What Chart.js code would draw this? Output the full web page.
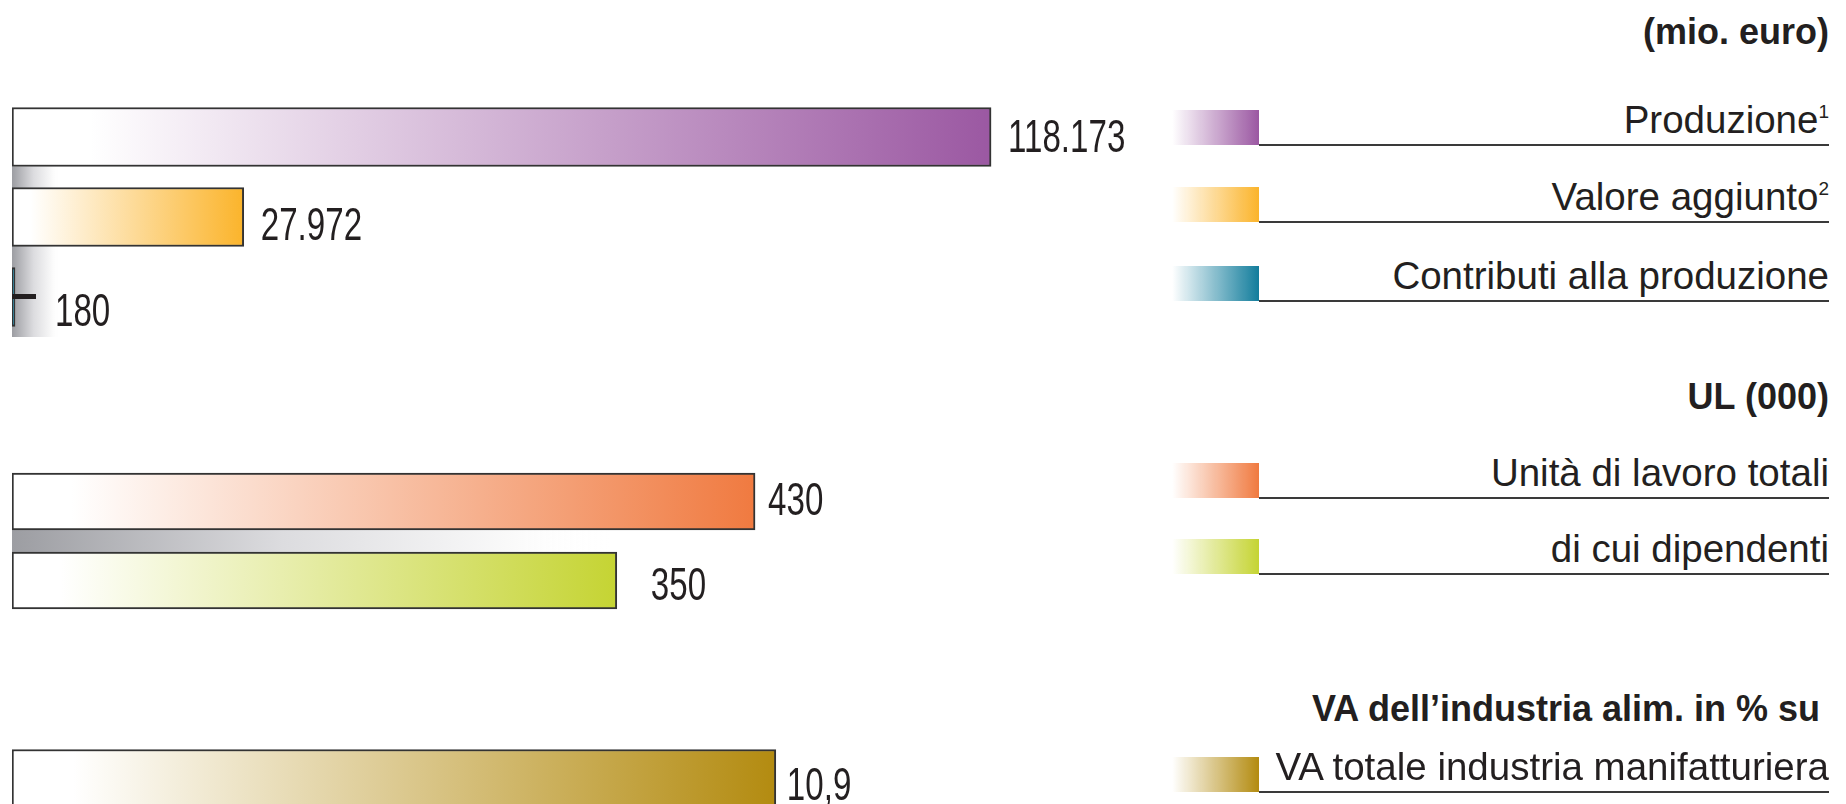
<!DOCTYPE html>
<html lang="it">
<head>
  <meta charset="UTF-8" />
  <title>Industria alimentare</title>
  <script src="https://cdn.jsdelivr.net/npm/chart.js"></script>
  <style>
    html, body { margin: 0; padding: 0; background: #fff; }
    body { position: relative; width: 1846px; height: 804px; overflow: hidden; font-family: "Liberation Sans", Arial, sans-serif; color: #231f20; }
    .chart { position: absolute; left: 0; width: 1200px; }
    .head, .item { position: absolute; right: 17px; font-size: 38.5px; line-height: 37px; white-space: nowrap; }
    .head { font-weight: bold; font-size: 36px; }
    .item sup { font-size: 19px; line-height: 0; vertical-align: 15px; }
    .swatch { position: absolute; left: 1172px; width: 87px; height: 35px; }
    .rule { position: absolute; left: 1259px; width: 570px; height: 2px; background: #3a3a3a; }
  </style>
</head>
<body>
  <canvas id="euroChart" class="chart" width="1200" height="240" style="top:97px"></canvas>
  <canvas id="ulChart" class="chart" width="1200" height="158" style="top:462px"></canvas>
  <canvas id="vaChart" class="chart" width="1200" height="80" style="top:739px"></canvas>
  <div id="legend"></div>

  <script>
    // values
    const euroLabels = ['Produzione', 'Valore aggiunto', 'Contributi alla produzione'];
    const euroValues = [118173, 27972, 180];
    const ulLabels = ['Unità di lavoro totali', 'di cui dipendenti'];
    const ulValues = [430, 350];
    const vaLabels = ['VA totale industria manifatturiera'];
    const vaValues = [10.9];

    const euroColors = ['#9b58a2', '#fbb42b', '#127d9c'];
    const ulColors = ['#f07a40', '#c5d433'];
    const vaColors = ['#b38b10'];

    // legend headings and footnote marks
    const headings = ['(mio. euro)', 'UL (000)', 'VA dell\u2019industria alim. in % su'];
    const euroNotes = ['1', '2', ''];

    // draws the value next to each bar, plus the little tick for the tiny bar
    const valueLabels = {
      id: 'valueLabels',
      afterDatasetsDraw(chart, args, opts) {
        const { ctx } = chart;
        const meta = chart.getDatasetMeta(0);
        const values = chart.data.datasets[0].data;
        ctx.save();
        ctx.font = '46px "Liberation Sans", Arial, sans-serif';
        ctx.fillStyle = '#231f20';
        ctx.textBaseline = 'middle';
        meta.data.forEach((bar, i) => {
          const txt = values[i].toLocaleString('it-IT', { maximumFractionDigits: 1 });
          ctx.save();
          ctx.translate(bar.x + opts.gap[i], bar.y + opts.dy[i]);
          ctx.scale(0.72, 1); // narrow figures like the original typeface
          ctx.fillText(txt, 0, 0);
          ctx.restore();
          if (opts.tick && opts.tick[i]) {
            ctx.fillRect(bar.base, bar.y - 3, 24, 5);
          }
        });
        ctx.restore();
      }
    };

    // grey fading band along the bars
    const barShadow = {
      id: 'barShadow',
      beforeDatasetsDraw(chart, args, opts) {
        const { ctx, chartArea } = chart;
        const bars = chart.getDatasetMeta(0).data;
        const top = bars[0].y + bars[0].height / 2;
        const bottom = opts.toBottom ? chartArea.bottom + 1 : bars[1].y - bars[1].height / 2;
        const g = ctx.createLinearGradient(chartArea.left, 0, chartArea.left + opts.width, 0);
        g.addColorStop(0, '#9c9da2');
        g.addColorStop(0.45, '#dcdcdf');
        g.addColorStop(0.85, '#fbfbfb');
        g.addColorStop(1, 'rgba(255,255,255,0)');
        ctx.save();
        ctx.fillStyle = g;
        ctx.fillRect(chartArea.left, top, opts.width, bottom - top);
        ctx.restore();
      }
    };

    function fadeFill(colors) {
      return (context) => {
        const chart = context.chart;
        const { ctx, chartArea, scales } = chart;
        if (!chartArea || !scales.x) return colors[context.dataIndex];
        const x0 = scales.x.getPixelForValue(0);
        const x1 = scales.x.getPixelForValue(context.raw);
        if (x1 - x0 < 2) return colors[context.dataIndex];
        const g = ctx.createLinearGradient(x0, 0, x1, 0);
        g.addColorStop(0, '#ffffff');
        g.addColorStop(0.08, '#ffffff');
        g.addColorStop(1, colors[context.dataIndex]);
        return g;
      };
    }

    function makeChart(id, labels, values, colors, xMax, thickness, labelOpts, shadowOpts) {
      const plugins = [valueLabels];
      if (shadowOpts) plugins.push(barShadow);
      return new Chart(document.getElementById(id), {
        type: 'bar',
        data: {
          labels: labels,
          datasets: [{
            data: values,
            backgroundColor: fadeFill(colors),
            borderColor: '#333333',
            borderWidth: 2,
            borderSkipped: false,
            barThickness: thickness,
            minBarLength: 3
          }]
        },
        options: {
          indexAxis: 'y',
          responsive: false,
          animation: false,
          layout: { padding: { left: 12, right: 188, top: 0, bottom: 0 } },
          plugins: {
            legend: { display: false },
            tooltip: { enabled: false },
            valueLabels: labelOpts,
            barShadow: shadowOpts || {}
          },
          scales: {
            x: { display: false, min: 0, max: xMax },
            y: { display: false }
          }
        },
        plugins: plugins
      });
    }

    makeChart('euroChart', euroLabels, euroValues, euroColors, 120700, 59,
      { gap: [17, 17, 40], dy: [2, 10, 16], tick: [false, false, true] },
      { width: 48, toBottom: true });
    makeChart('ulChart', ulLabels, ulValues, ulColors, 578.7, 57,
      { gap: [13, 34], dy: [1, 7] },
      { width: 600, toBottom: false });
    makeChart('vaChart', vaLabels, vaValues, vaColors, 14.27, 59,
      { gap: [11], dy: [8] }, null);

    // legend on the right, built from the same names and colours
    const legend = document.getElementById('legend');
    function addText(cls, text, baseline, note) {
      const d = document.createElement('div');
      d.className = cls;
      d.style.top = (baseline - 31) + 'px';
      d.textContent = text;
      if (note) {
        const s = document.createElement('sup');
        s.textContent = note;
        d.appendChild(s);
      }
      legend.appendChild(d);
      return d;
    }
    function addItem(text, color, ruleY, note) {
      const sw = document.createElement('div');
      sw.className = 'swatch';
      sw.style.top = (ruleY - 34) + 'px';
      sw.style.background = 'linear-gradient(to right, rgba(255,255,255,0), ' + color + ')';
      legend.appendChild(sw);
      const r = document.createElement('div');
      r.className = 'rule';
      r.style.top = ruleY + 'px';
      legend.appendChild(r);
      addText('item', text, ruleY - 12, note);
    }

    addText('head', headings[0], 44);
    const euroRules = [144, 221, 300];
    euroLabels.forEach((l, i) => addItem(l, euroColors[i], euroRules[i], euroNotes[i]));
    addText('head', headings[1], 409);
    const ulRules = [497, 573];
    ulLabels.forEach((l, i) => addItem(l, ulColors[i], ulRules[i]));
    const vaHead = addText('head', headings[2], 721);
    vaHead.style.right = '26px';
    addItem(vaLabels[0], vaColors[0], 791);
  </script>
</body>
</html>
